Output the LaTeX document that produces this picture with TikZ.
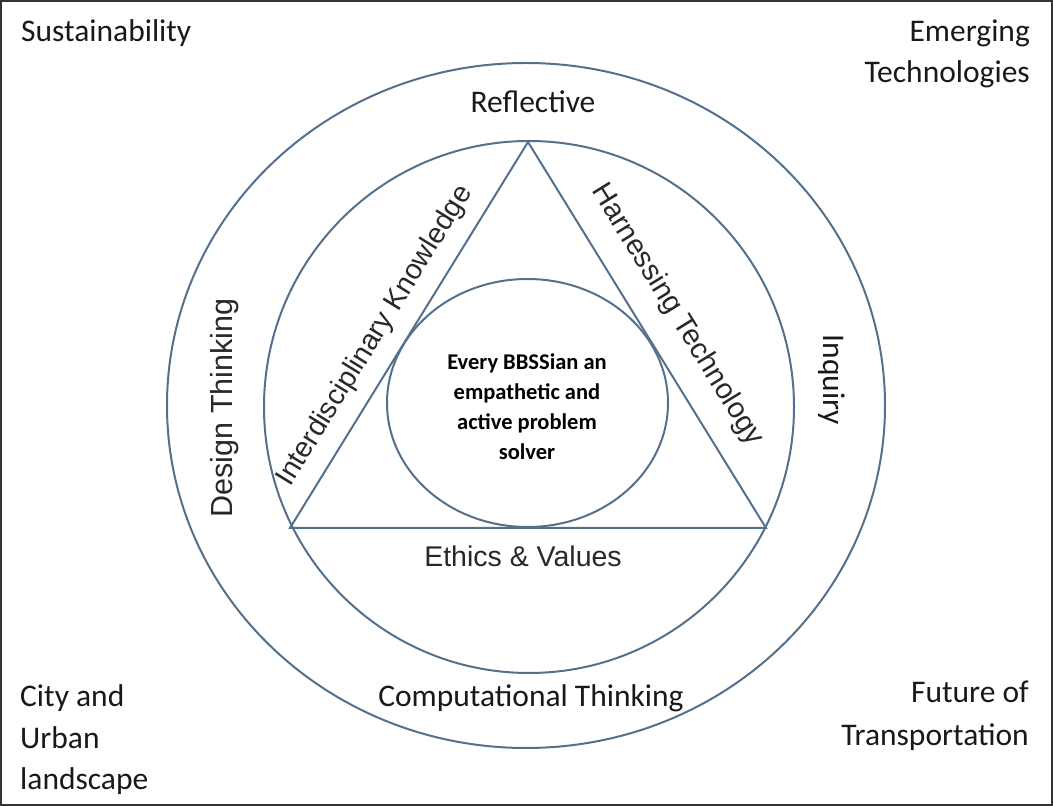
\documentclass[tikz,border=0pt]{standalone}
\usepackage{fontspec}
\setmainfont{Carlito}
\newfontfamily\arialf{Liberation Sans}
\definecolor{ringblue}{RGB}{84,112,140}
\definecolor{txtdark}{RGB}{25,25,25}
\definecolor{txtgray}{RGB}{40,40,40}
\tikzset{
  ring/.style={draw=ringblue, line width=2pt},
  calib/.style={inner sep=0pt, text=txtdark, font=\fontsize{31.5}{41}\selectfont},
  arl/.style={inner sep=0pt, text=txtgray, font=\arialf\fontsize{28.5}{34}\selectfont},
  core/.style={inner sep=0pt, text=black, align=center, font=\bfseries\fontsize{22.5}{30}\selectfont}
}
\begin{document}
\begin{tikzpicture}[x=1pt,y=1pt]
\useasboundingbox (0,0) rectangle (1053,806);
\draw[line width=2pt, draw=black!80] (1,1) rectangle (1052,805);
% rings
\draw[ring] (526,400.5) ellipse [x radius=359pt, y radius=342.5pt];
\draw[ring] (529,399) ellipse [x radius=265pt, y radius=266pt];
\draw[ring] (527.5,403) ellipse [x radius=140.5pt, y radius=124pt];
% triangle
\coordinate (A) at (528,664);
\coordinate (B) at (290,278);
\coordinate (C) at (766,278);
\draw[ring, line join=miter] (A) -- (B) -- (C) -- cycle;
% corner labels
\node[calib, anchor=base west] (sus) at (21,764) {Sustainability};
\node[calib, anchor=east, align=right] (emt) at (1030,752.5) {Emerging\\Technologies};
\node[calib, anchor=west, align=left, font=\fontsize{31.5}{41.5}\selectfont] (city) at (20,66) {City and\\Urban\\landscape};
\node[calib, anchor=east, align=right, font=\fontsize{31.5}{43}\selectfont] (fut) at (1029,90.5) {Future of\\Transportation};
% ring labels
\node[calib, anchor=base] (refl) at (533,693) {Reflective};
\node[calib, anchor=base] (comp) at (531,99) {Computational Thinking};
\node[calib, rotate=-90] (inq) at (832,426) {Inquiry};
\node[arl, rotate=90, font=\arialf\fontsize{30.5}{34}\selectfont] (dt) at (225,398) {Design Thinking};
\node[arl, rotate=58.3] (ik) at (375,470) {Interdisciplinary Knowledge};
\node[arl, rotate=-58.3, font=\arialf\fontsize{29}{34}\selectfont] (ht) at (677,491) {Harnessing Technology};
\node[arl] (ev) at (523,250) {Ethics \& Values};
% core
\node[core] (core) at (527,399) {Every BBSSian an\\empathetic and\\active problem\\solver};
\end{tikzpicture}
\end{document}
